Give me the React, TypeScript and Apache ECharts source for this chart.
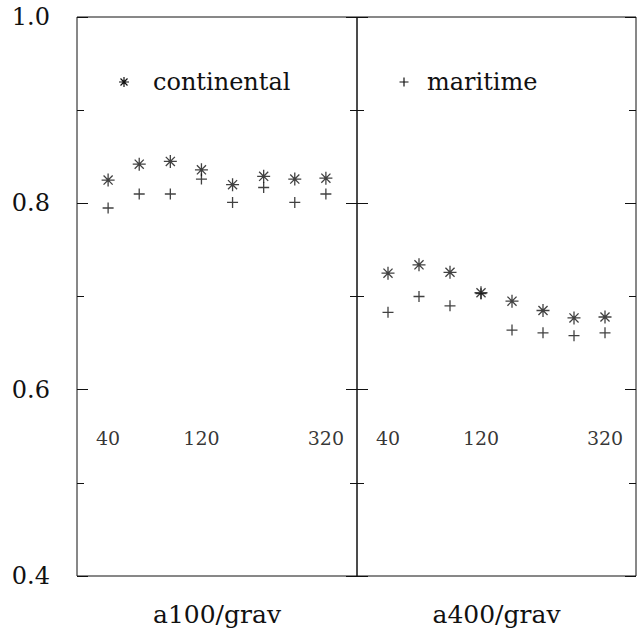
import React, { useEffect, useRef } from "react";
import * as echarts from "echarts";

// x positions of the points (index within each panel)
const pointIndex = [1, 2, 3, 4, 5, 6, 7, 8];
const tickLabels = ["40", "120", "320"];
const tickLabelIndex = [1, 4, 8];
const tickLabelLevel = 0.548;

const continental100 = [0.825, 0.842, 0.845, 0.836, 0.82, 0.829, 0.826, 0.827];
const maritime100 = [0.795, 0.81, 0.81, 0.826, 0.801, 0.817, 0.801, 0.81];
const continental400 = [0.725, 0.734, 0.726, 0.704, 0.695, 0.685, 0.677, 0.678];
const maritime400 = [0.683, 0.7, 0.69, 0.703, 0.664, 0.661, 0.658, 0.661];

const panelTitles = ["a100/grav", "a400/grav"];
const legendNames = ["continental", "maritime"];

const FONT = "DejaVu Serif";
const INK = "#111111";

const ASTER =
  "path://M0,5 L10,5 M5,0 L5,10 M1.5,1.5 L8.5,8.5 M8.5,1.5 L1.5,8.5";
const PLUS = "path://M0,5 L10,5 M5,0 L5,10";

let registered = false;
function registerShapes() {
  if (registered) return;
  registered = true;
  echarts.graphic.registerShape(
    "asterMark",
    echarts.graphic.extendPath(
      "M-5,0L5,0M0,-5L0,5M-3.5,-3.5L3.5,3.5M-3.5,3.5L3.5,-3.5",
      {}
    )
  );
  echarts.graphic.registerShape(
    "plusMark",
    echarts.graphic.extendPath("M-4.5,0L4.5,0M0,-4.5L0,4.5", {})
  );
}

function yAxis(gridIndex: number, position: string, labels: boolean) {
  return {
    type: "value",
    gridIndex,
    position,
    min: 0.4,
    max: 1.0,
    interval: 0.2,
    axisLine: { show: false },
    axisTick: { show: true, inside: true, length: 11, lineStyle: { color: INK } },
    minorTick: { show: true, splitNumber: 2, length: 7, lineStyle: { color: INK } },
    splitLine: { show: false },
    axisLabel: {
      show: labels,
      margin: 27,
      fontFamily: FONT,
      fontSize: 24,
      color: INK,
      formatter: (v: number) => v.toFixed(1),
    },
  };
}

function xAxis(gridIndex: number, name: string) {
  return {
    type: "value",
    gridIndex,
    min: 0,
    max: 9,
    axisLine: { show: false },
    axisTick: { show: false },
    axisLabel: { show: false },
    splitLine: { show: false },
    name,
    nameLocation: "middle",
    nameGap: 26,
    nameTextStyle: { fontFamily: FONT, fontSize: 25, color: INK },
  };
}

function pointSeries(vals: number[], xi: number, yi: number, symbol: string, size: number, name: string) {
  return {
    type: "scatter",
    name,
    xAxisIndex: xi,
    yAxisIndex: yi,
    symbol,
    symbolSize: size,
    itemStyle: { color: "transparent", borderColor: INK, borderWidth: 1.3 },
    data: vals.map((v, i) => [pointIndex[i], v]),
    silent: true,
  };
}

function labelSeries(xi: number, yi: number) {
  return {
    type: "scatter",
    xAxisIndex: xi,
    yAxisIndex: yi,
    symbol: "circle",
    symbolSize: 1,
    itemStyle: { color: "transparent" },
    silent: true,
    label: {
      show: true,
      position: "inside",
      formatter: (p: any) => p.data[2],
      fontFamily: FONT,
      fontSize: 19,
      color: "#000000",
    },
    data: tickLabels.map((t, i) => [tickLabelIndex[i], tickLabelLevel, t]),
  };
}

export default function App() {
  const ref = useRef<HTMLDivElement>(null);
  useEffect(() => {
    if (!ref.current) return;
    registerShapes();
    const chart = echarts.init(ref.current, undefined, { renderer: "svg" });
    chart.setOption({
      animation: false,
      backgroundColor: "#ffffff",
      grid: [
        { left: 77, top: 17, width: 280, height: 559, show: true, borderColor: INK, borderWidth: 1, backgroundColor: "transparent" },
        { left: 357, top: 17, width: 279, height: 559, show: true, borderColor: INK, borderWidth: 1, backgroundColor: "transparent" },
      ],
      xAxis: [xAxis(0, panelTitles[0]), xAxis(1, panelTitles[1])],
      yAxis: [
        yAxis(0, "left", true),
        yAxis(0, "right", false),
        yAxis(1, "left", false),
        yAxis(1, "right", false),
      ],
      graphic: [
        { type: "asterMark", x: 124, y: 82, style: { stroke: INK, fill: "none", lineWidth: 1.2 } },
        {
          type: "text",
          left: 153,
          top: 70,
          style: { text: legendNames[0], font: `24px "${FONT}"`, fill: INK },
        },
        { type: "plusMark", x: 404, y: 82, style: { stroke: INK, fill: "none", lineWidth: 1.2 } },
        {
          type: "text",
          left: 427,
          top: 70,
          style: { text: legendNames[1], font: `24px "${FONT}"`, fill: INK },
        },
      ],
      series: [
        pointSeries(continental100, 0, 0, ASTER, 13, legendNames[0]),
        pointSeries(maritime100, 0, 0, PLUS, 11, legendNames[1]),
        labelSeries(0, 0),
        pointSeries(continental400, 1, 2, ASTER, 13, legendNames[0]),
        pointSeries(maritime400, 1, 2, PLUS, 11, legendNames[1]),
        labelSeries(1, 2),
      ],
    });
    return () => chart.dispose();
  }, []);
  return (
    <div
      ref={ref}
      style={{ position: "absolute", left: 0, top: 0, width: 637, height: 632 }}
    />
  );
}
